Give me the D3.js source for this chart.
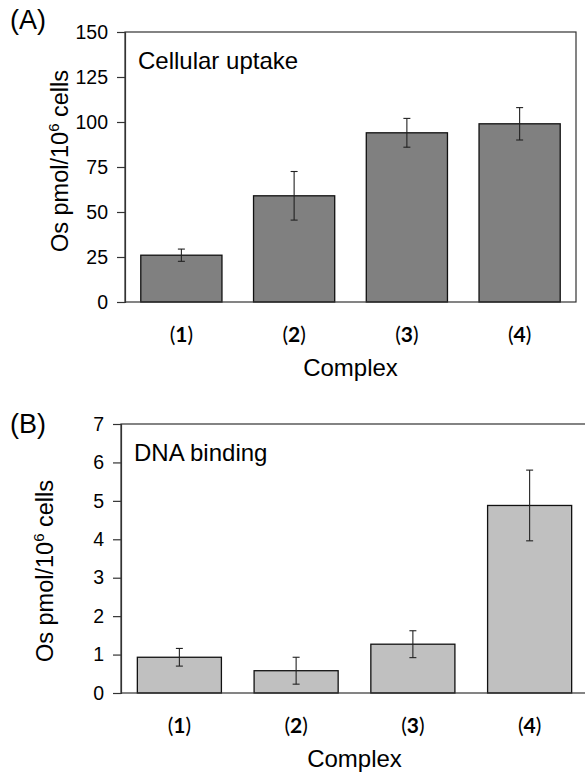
<!DOCTYPE html>
<html>
<head>
<meta charset="utf-8">
<script src="https://cdn.jsdelivr.net/npm/d3@7"></script>
<style>
  body { margin: 0; background: #fff; }
  svg text { font-family: "Liberation Sans", Arial, sans-serif; fill: #000; }
</style>
</head>
<body>
<div id="chart"></div>
<script>
// data
const complexes = ["1", "2", "3", "4"];
const uptakeMean = [26, 59, 94, 99];
const uptakeErr = [3.4, 13.5, 8, 9];
const uptakeTicks = [0, 25, 50, 75, 100, 125, 150];
const dnaMean = [0.93, 0.58, 1.27, 4.88];
const dnaErr = [0.23, 0.35, 0.35, 0.92];
const dnaTicks = [0, 1, 2, 3, 4, 5, 6, 7];

const width = 585, height = 777;

const svg = d3.select("#chart").append("svg")
  .attr("width", width)
  .attr("height", height);

function drawPanel(p) {
  const x = d3.scaleBand()
    .domain(complexes)
    .range([p.left, p.right])
    .paddingInner(0.28)
    .paddingOuter(0.14);
  const y = d3.scaleLinear()
    .domain([0, p.max])
    .range([p.bottom, p.top]);

  const g = svg.append("g");

  // bars
  g.selectAll("rect.bar")
    .data(complexes)
    .enter()
    .append("rect")
    .attr("class", "bar")
    .attr("x", d => x(d))
    .attr("width", x.bandwidth())
    .attr("y", (d, i) => y(p.mean[i]))
    .attr("height", (d, i) => y(0) - y(p.mean[i]))
    .attr("fill", p.color)
    .attr("stroke", "#111")
    .attr("stroke-width", 1.3);

  // error bars
  const eb = g.selectAll("g.err")
    .data(complexes)
    .enter()
    .append("g")
    .attr("class", "err")
    .attr("stroke", "#222")
    .attr("stroke-width", 1.1);
  const cx = d => x(d) + x.bandwidth() / 2;
  eb.append("line")
    .attr("x1", cx).attr("x2", cx)
    .attr("y1", (d, i) => y(p.mean[i] + p.err[i]))
    .attr("y2", (d, i) => y(p.mean[i] - p.err[i]));
  eb.append("line")
    .attr("x1", d => cx(d) - 3.5).attr("x2", d => cx(d) + 3.5)
    .attr("y1", (d, i) => y(p.mean[i] + p.err[i]))
    .attr("y2", (d, i) => y(p.mean[i] + p.err[i]));
  eb.append("line")
    .attr("x1", d => cx(d) - 3.5).attr("x2", d => cx(d) + 3.5)
    .attr("y1", (d, i) => y(p.mean[i] - p.err[i]))
    .attr("y2", (d, i) => y(p.mean[i] - p.err[i]));

  // frame
  g.append("rect")
    .attr("x", p.left)
    .attr("y", p.top)
    .attr("width", p.right - p.left)
    .attr("height", p.bottom - p.top)
    .attr("fill", "none")
    .attr("stroke", "#333")
    .attr("stroke-width", 1.2);

  // y axis
  const yAxis = g.append("g")
    .attr("transform", "translate(" + p.left + ",0)")
    .call(d3.axisLeft(y).tickValues(p.ticks).tickSize(8).tickPadding(9).tickFormat(d3.format("d")));
  yAxis.select(".domain").attr("stroke", "#333").attr("stroke-width", 1.2);
  yAxis.selectAll(".tick line").attr("stroke", "#333").attr("stroke-width", 1.2);
  yAxis.selectAll(".tick text")
    .attr("font-size", "19.5px")
    .attr("font-family", "'Liberation Sans', Arial, sans-serif")
    .attr("fill", "#000");

  // category labels (1) (2) ...
  const cat = g.selectAll("text.cat")
    .data(complexes)
    .enter()
    .append("text")
    .attr("class", "cat")
    .attr("x", cx)
    .attr("y", p.bottom + 40)
    .attr("text-anchor", "middle")
    .style("font-family", "Lato, 'Open Sans', sans-serif")
    .style("font-size", "21px")
    .style("font-weight", "bold");
  cat.append("tspan").style("font-weight", "normal").text("(");
  cat.append("tspan").text(d => d);
  cat.append("tspan").style("font-weight", "normal").text(")");

  // x title
  g.append("text")
    .attr("x", (p.left + p.right) / 2)
    .attr("y", p.bottom + 74)
    .attr("text-anchor", "middle")
    .attr("font-size", "24px")
    .text("Complex");

  // y title
  const yt = g.append("text")
    .attr("transform", "translate(" + p.ylabX + "," + p.ylabY + ") rotate(-90)")
    .attr("text-anchor", "middle")
    .attr("font-size", "23.5px");
  yt.append("tspan").text("Os pmol/10");
  yt.append("tspan").attr("font-size", "15px").attr("dy", -9).text("6");
  yt.append("tspan").attr("dy", 9).text(" cells");

  // inner title
  g.append("text")
    .attr("x", p.left + 13)
    .attr("y", p.top + 37)
    .attr("font-size", "24px")
    .text(p.title);

  // panel letter
  g.append("text")
    .attr("x", 10)
    .attr("y", p.letterY)
    .attr("font-size", "27px")
    .text(p.letter);
}

drawPanel({
  left: 125, right: 576, top: 32, bottom: 302,
  max: 150, ticks: uptakeTicks,
  mean: uptakeMean, err: uptakeErr,
  color: "#808080",
  title: "Cellular uptake", letter: "(A)", letterY: 29,
  ylabX: 68, ylabY: 161
});

drawPanel({
  left: 121, right: 588, top: 424, bottom: 693,
  max: 7, ticks: dnaTicks,
  mean: dnaMean, err: dnaErr,
  color: "#c0c0c0",
  title: "DNA binding", letter: "(B)", letterY: 433,
  ylabX: 53, ylabY: 571
});
</script>
</body>
</html>
